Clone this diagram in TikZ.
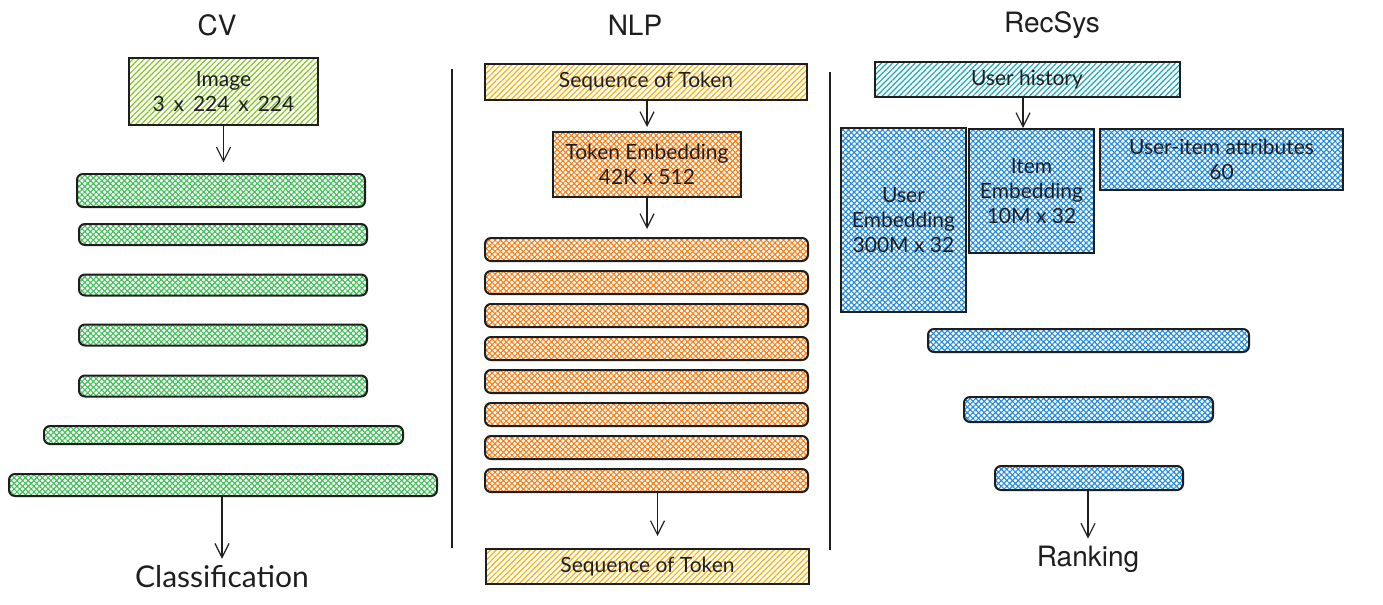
\documentclass[tikz,border=0pt]{standalone}
\usepackage{fontspec}
\setmainfont{TeX Gyre Heros}
\newfontfamily\handfont{Lato}
\usetikzlibrary{arrows.meta,patterns.meta}

\definecolor{ink}{HTML}{1E1E1E}
\definecolor{limeC}{HTML}{82C91E}
\definecolor{greenC}{HTML}{40C057}
\definecolor{yellowC}{HTML}{FAB005}
\definecolor{orangeC}{HTML}{FD7E14}
\definecolor{cyanC}{HTML}{15AABF}
\definecolor{blueC}{HTML}{228BE6}

\begin{document}
\begin{tikzpicture}[x=0.5pt, y=-0.5pt,
    box/.style={draw=ink, line width=1pt, inner sep=0pt, align=center, text=ink,
      font=\handfont\fontsize{10.5}{12.5}\selectfont},
    hatch/.style={box, pattern={Lines[angle=45,distance=2pt,line width=0.6pt]}, pattern color=#1},
    cross/.style={box, pattern={Hatch[angle=45,distance=2pt,line width=0.55pt]}, pattern color=#1},
    bar/.style={cross=#1, rounded corners=3pt},
    arr/.style={draw=ink, line width=0.6pt, -{Straight Barb[length=7pt,width=7pt]}},
    title/.style={text=ink, font=\fontsize{14}{16}\selectfont},
    divider/.style={draw=ink, line width=0.6pt}]
  \useasboundingbox (0,0) rectangle (1383,605);

  \node[title] (cv) at (217,25) {CV};
  \node[title] (nlp) at (635,25) {NLP};
  \node[title] (recsys) at (1052,25) {RecSys};

  \draw[divider] (452,69) -- (452,548);
  \draw[divider] (830,72) -- (830,550);

  \node[hatch=limeC, minimum width=94.5pt, minimum height=33.5pt] (img) at (223.5,91.5) {Image\\3 \,x\, 224 \,x\, 224};
  \node[bar=greenC, minimum width=144pt, minimum height=16.5pt] (g1) at (221,190.5) {};
  \foreach \i/\y in {2/234.5, 3/285, 4/335, 5/386}
    \node[bar=greenC, minimum width=144pt, minimum height=10.5pt] (g\i) at (223,\y) {};
  \node[bar=greenC, minimum width=179.5pt, minimum height=9pt] (g6) at (223.5,435) {};
  \node[bar=greenC, minimum width=214pt, minimum height=11pt] (g7) at (223,485) {};
  \node[text=ink, font=\handfont\fontsize{15}{16}\selectfont] (cls) at (222,577) {Classification};
  \draw[arr, shorten >=5.5pt] (img.south) -- (img.south |- g1.north);
  \draw[arr] (g7.south -| cls.north) -- (cls.north);

  \node[hatch=yellowC, minimum width=161pt, minimum height=18pt] (seqin) at (646,82) {Sequence of Token};
  \node[cross=orangeC, minimum width=94pt, minimum height=32.5pt] (tok) at (647,164.5) {Token Embedding\\42K x 512};
  \foreach \i in {1,...,8}
    \node[bar=orangeC, minimum width=161.5pt, minimum height=11.5pt] (o\i) at (646.5,{249.5+33*(\i-1)}) {};
  \node[hatch=yellowC, minimum width=161.5pt, minimum height=17.5pt] (seqout) at (647.5,566.5) {Sequence of Token};
  \draw[arr, shorten >=2pt] (seqin.south -| tok.north) -- (tok.north);
  \draw[arr, shorten >=4pt] (tok.south) -- (tok.south |- o1.north);
  \draw[arr, shorten >=6pt] ([xshift=5.5pt]o8.south) -- ([xshift=5.5pt]o8.south |- seqout.north);

  \node[hatch=cyanC, minimum width=152.5pt, minimum height=17.5pt] (hist) at (1027,79.5) {User history};
  \node[cross=blueC, minimum width=62.5pt, minimum height=92pt] (uemb) at (903.5,220) {User\\Embedding\\300M x 32};
  \node[cross=blueC, minimum width=62.5pt, minimum height=62pt] (iemb) at (1031.5,191) {Item\\Embedding\\10M x 32};
  \node[cross=blueC, minimum width=121.5pt, minimum height=30.5pt] (attr) at (1221.5,159.5) {User-item attributes\\60};
  \node[bar=blueC, minimum width=160.5pt, minimum height=11.5pt] (b1) at (1088.5,340.5) {};
  \node[bar=blueC, minimum width=124.5pt, minimum height=12.5pt] (b2) at (1088.5,409.5) {};
  \node[bar=blueC, minimum width=94pt, minimum height=12pt] (b3) at (1089,478) {};
  \node[title] (rank) at (1088,559) {Ranking};
  \draw[arr] ([xshift=-2pt]hist.south) -- ([xshift=-2pt]hist.south |- iemb.north);
  \draw[arr] (b3.south -| rank.north) -- (rank.north);
\end{tikzpicture}
\end{document}
